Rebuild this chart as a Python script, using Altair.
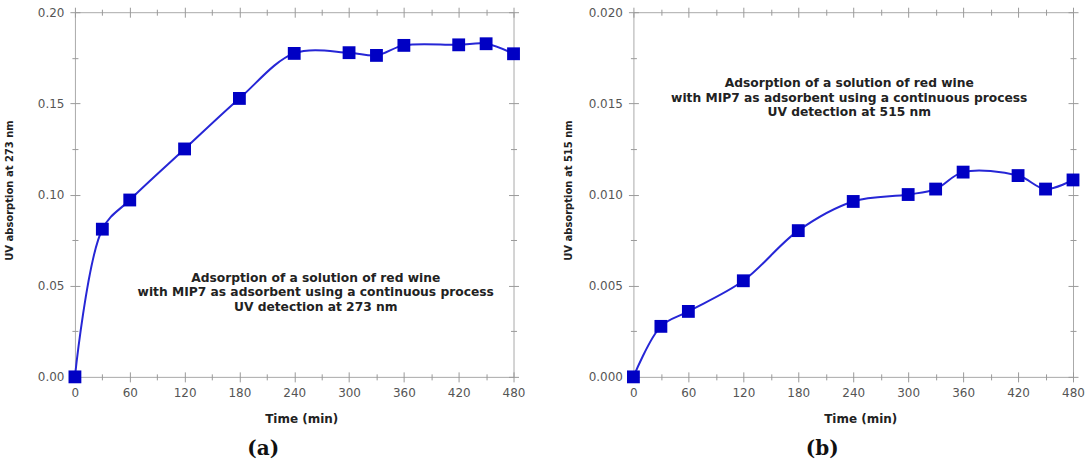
import altair as alt
import pandas as pd

# ---------------- data ----------------
TIME_MIN = [0, 30, 60, 120, 180, 240, 300, 330, 360, 420, 450, 480]
UV_273 = [0.000, 0.081, 0.097, 0.125, 0.1527, 0.1774, 0.1778, 0.1763, 0.1818, 0.1821, 0.1827, 0.1772]
UV_515 = [0.0000, 0.00277, 0.00359, 0.00527, 0.00802, 0.00962, 0.0100, 0.0103, 0.01123, 0.01104, 0.0103, 0.0108]

X_MAJOR = [0, 60, 120, 180, 240, 300, 360, 420, 480]
X_MINOR = [30, 90, 150, 210, 270, 330, 390, 450]
Y_MAJOR_A = [0.00, 0.05, 0.10, 0.15, 0.20]
Y_MINOR_A = [0.025, 0.075, 0.125, 0.175]
Y_MAJOR_B = [0.000, 0.005, 0.010, 0.015, 0.020]
Y_MINOR_B = [0.0025, 0.0075, 0.0125, 0.0175]

ANNOT_A = "Adsorption of a solution of red wine\nwith MIP7 as adsorbent using a continuous process\nUV detection at 273 nm"
ANNOT_B = "Adsorption of a solution of red wine\nwith MIP7 as adsorbent using a continuous process\nUV detection at 515 nm"

FONT = "DejaVu Sans"
TICK_COLOR = "#9a9a9a"
LINE_COLOR = "#2626d6"
MARK_COLOR = "#0000c4"
H = 365


def tick_axis(values, orient, size, offset):
    return alt.Axis(values=values, orient=orient, labels=False, ticks=True, tickSize=size,
                    offset=offset, domain=False, grid=False, title=None,
                    tickColor=TICK_COLOR, tickWidth=1)


def panel(ys, ymax, ymajor, yminor, yfmt, ytitle, annot, ax, ay, caption, width):
    df = pd.DataFrame({"t": TIME_MIN, "v": ys})
    xs = alt.Scale(domain=[0, 480], nice=False, zero=False)
    ysc = alt.Scale(domain=[0, ymax], nice=False, zero=False)

    x_lab = alt.Axis(values=X_MAJOR, format="d", ticks=False, tickSize=0, domain=False, grid=False,
                     labelPadding=11, labelFontSize=12, labelFont=FONT, labelColor="#555555",
                     labelFlush=False, labelOverlap=False,
                     title="Time (min)", titleFont=FONT, titleFontSize=12, titleFontWeight="bold",
                     titleColor="#222222", titleX=width / 2 + 7, titleY=42, titleBaseline="middle")
    y_lab = alt.Axis(values=ymajor, format=yfmt, ticks=False, tickSize=0, domain=False, grid=False,
                     labelPadding=11, labelFontSize=12, labelFont=FONT, labelColor="#555555",
                     labelFlush=False, labelOverlap=False,
                     title=ytitle, titleFont=FONT, titleFontSize=10, titleFontWeight="bold",
                     titleColor="#222222", titleX=-65, titleY=178, titleBaseline="middle")

    line = alt.Chart(df).mark_line(color=LINE_COLOR, strokeWidth=2, interpolate="catmull-rom").encode(
        x=alt.X("t:Q", scale=xs, axis=x_lab),
        y=alt.Y("v:Q", scale=ysc, axis=y_lab),
    )
    pts = alt.Chart(df).mark_square(size=165, color=MARK_COLOR, opacity=1).encode(
        x=alt.X("t:Q", scale=xs, axis=tick_axis(X_MAJOR, "bottom", 10, -5)),
        y=alt.Y("v:Q", scale=ysc, axis=tick_axis(ymajor, "left", 10, -5)),
    )
    minor1 = alt.Chart(df).mark_point(opacity=0).encode(
        x=alt.X("t:Q", scale=xs, axis=tick_axis(X_MINOR, "bottom", 6, -3)),
        y=alt.Y("v:Q", scale=ysc, axis=tick_axis(yminor, "left", 6, -3)),
    )
    major2 = alt.Chart(df).mark_point(opacity=0).encode(
        x=alt.X("t:Q", scale=xs, axis=tick_axis(X_MAJOR, "top", 10, -5)),
        y=alt.Y("v:Q", scale=ysc, axis=tick_axis(ymajor, "right", 10, -5)),
    )
    minor2 = alt.Chart(df).mark_point(opacity=0).encode(
        x=alt.X("t:Q", scale=xs, axis=tick_axis(X_MINOR, "top", 6, -3)),
        y=alt.Y("v:Q", scale=ysc, axis=tick_axis(yminor, "right", 6, -3)),
    )
    text = alt.Chart(pd.DataFrame({"label": [annot]})).mark_text(
        font=FONT, fontSize=12.3, fontWeight="bold", color="#222222", lineBreak="\n",
        lineHeight=14.5, align="center", baseline="middle"
    ).encode(text="label:N", x=alt.value(ax), y=alt.value(ay))

    return alt.layer(major2, minor2, minor1, line, pts, text).resolve_axis(
        x="independent", y="independent"
    ).properties(
        width=width, height=H,
        title=alt.TitleParams(caption, orient="bottom", anchor="middle", frame="group",
                              font="DejaVu Serif", fontSize=20, fontWeight="bold",
                              color="#111111", dx=-31, offset=14),
    )


pa = panel(UV_273, 0.20, Y_MAJOR_A, Y_MINOR_A, ".2f", "UV absorption at 273 nm",
           ANNOT_A, 241, 266, "(a)", 439)
pb = panel(UV_515, 0.020, Y_MAJOR_B, Y_MINOR_B, ".3f", "UV absorption at 515 nm",
           ANNOT_B, 216, 71, "(b)", 440)

chart = alt.hconcat(pa, pb, spacing=37).configure_view(
    stroke="#aaaaaa", strokeWidth=1
).properties(
    padding={"left": 4, "top": 5, "right": 5, "bottom": 0}, background="white"
)

chart.save("out.html", embed_options={"renderer": "svg", "actions": False})
